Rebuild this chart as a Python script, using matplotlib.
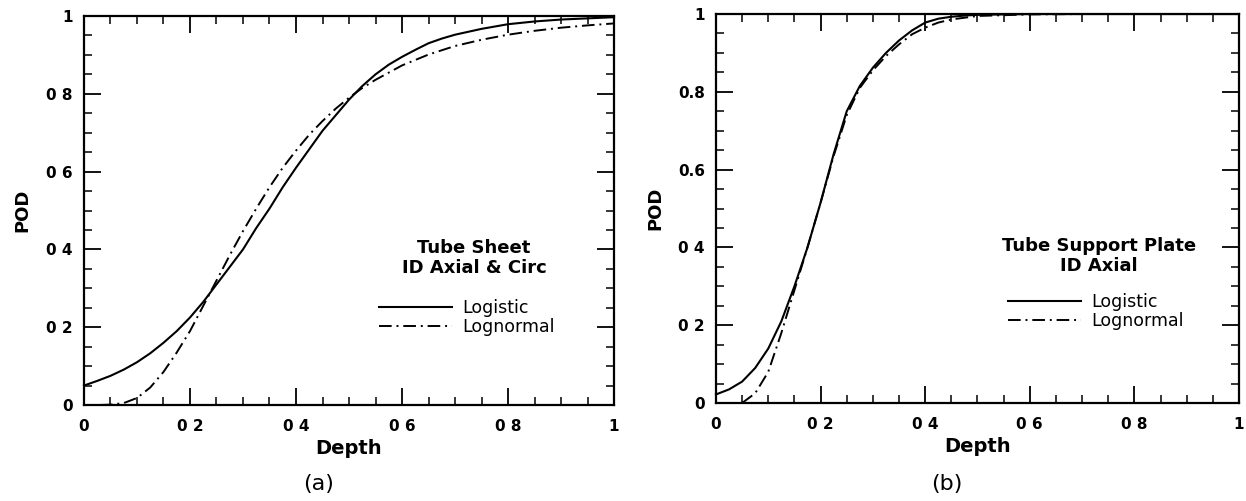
import matplotlib
matplotlib.use("Agg")
import matplotlib.pyplot as plt
from matplotlib.ticker import MultipleLocator

# values
depth_a_logistic = [0, .025, .05, .075, .1, .125, .15, .175, .2, .225, .25, .275, .3, .325, .35, .375, .4,
                    .45, .5, .525, .55, .575, .6, .625, .65, .675, .7, .75, .8, .85, .9, .95, 1]
pod_a_logistic = [.05, .062, .075, .091, .11, .133, .16, .19, .225, .265, .31, .355, .40, .455, .505, .56, .61,
                  .705, .785, .82, .85, .875, .895, .913, .93, .942, .952, .967, .979, .986, .991, .994, .997]

depth_a_lognormal = [.03, .05, .075, .1, .125, .15, .175, .2, .225, .25, .275, .3, .325, .35, .375, .4, .425,
                     .45, .475, .5, .525, .55, .6, .65, .7, .75, .8, .85, .9, .95, 1]
pod_a_lognormal = [0, .001, .005, .018, .045, .085, .135, .19, .255, .32, .385, .447, .505, .56, .61, .654, .695,
                   .73, .762, .79, .815, .836, .873, .901, .923, .939, .952, .962, .970, .976, .981]

depth_b_logistic = [0, .025, .05, .075, .1, .125, .15, .175, .2, .225, .25, .275, .3, .325, .35, .375, .4,
                    .425, .45, .475, .5, .6, .7, .8, .9, 1]
pod_b_logistic = [.022, .035, .055, .09, .14, .21, .30, .40, .515, .64, .75, .815, .862, .90, .932, .958, .978,
                  .988, .993, .996, .998, 1, 1, 1, 1, 1]

depth_b_lognormal = [.05, .075, .1, .125, .15, .175, .2, .225, .25, .275, .3, .325, .35, .375, .4, .425, .45,
                     .5, .6, .7, .8, .9, 1]
pod_b_lognormal = [0, .025, .08, .18, .29, .40, .515, .635, .74, .81, .855, .892, .922, .948, .965, .978, .986,
                   .995, .999, 1, 1, 1, 1]

x_ticks = [0, 0.2, 0.4, 0.6, 0.8, 1.0]
x_ticklabels = ["0", "0 2", "0 4", "0 6", "0 8", "1"]
y_ticklabels_a = ["0", "0 2", "0 4", "0 6", "0 8", "1"]
y_ticklabels_b = ["0", "0 2", "0 4", "0.6", "0.8", "1"]

plt.rcParams.update({"font.family": "DejaVu Sans"})
fig = plt.figure(figsize=(12.46, 5.01), dpi=100)
ax_a = fig.add_axes([0.0674, 0.1916, 0.4254, 0.7764])
ax_b = fig.add_axes([0.5746, 0.1956, 0.4198, 0.7764])

dashdot = (0, (6.5, 2.5, 1, 2.5))

panels = [
    (ax_a, depth_a_logistic, pod_a_logistic, depth_a_lognormal, pod_a_lognormal,
     y_ticklabels_a, "Tube Sheet\nID Axial & Circ", (0.736, 0.378), (0.723, 0.225)),
    (ax_b, depth_b_logistic, pod_b_logistic, depth_b_lognormal, pod_b_lognormal,
     y_ticklabels_b, "Tube Support Plate\nID Axial", (0.732, 0.378), (0.727, 0.236)),
]

for ax, dl, pl, dn, pn, ylabels, title, tpos, lpos in panels:
    ax.plot(dl, pl, color="black", lw=1.5, label="Logistic", clip_on=False)
    ax.plot(dn, pn, color="black", lw=1.4, linestyle=dashdot, label="Lognormal", clip_on=False)
    ax.set_xlim(0, 1)
    ax.set_ylim(0, 1)
    ax.set_xticks(x_ticks)
    ax.set_xticklabels(x_ticklabels, fontsize=11, fontweight="bold")
    ax.set_yticks(x_ticks)
    ax.set_yticklabels(ylabels, fontsize=11, fontweight="bold")
    ax.xaxis.set_minor_locator(MultipleLocator(0.05))
    ax.yaxis.set_minor_locator(MultipleLocator(0.05))
    ax.tick_params(which="both", direction="in", top=True, right=True, color="black")
    ax.tick_params(which="major", length=12.5, width=1.3)
    ax.tick_params(which="minor", length=6, width=1.1)
    ax.tick_params(axis="x", which="major", pad=10)
    ax.tick_params(axis="y", which="major", pad=8)
    for sp in ax.spines.values():
        sp.set_linewidth(1.6)

    ax.set_xlabel("Depth", fontsize=14, fontweight="bold", va="center")
    ax.xaxis.set_label_coords(0.5, -0.113)
    ax.set_ylabel("POD", fontsize=13, fontweight="bold", va="center")
    ax.yaxis.set_label_coords(-0.116, 0.5)

    ax.text(tpos[0], tpos[1], title, transform=ax.transAxes, ha="center", va="center",
            fontsize=13, fontweight="bold", linespacing=1.1)
    ax.legend(loc="center", bbox_to_anchor=lpos, frameon=False, fontsize=12.5,
              handlelength=4.2, handletextpad=0.6, labelspacing=0.05, borderpad=0)

fig.text(319 / 1246, 1 - 484 / 501, "(a)", ha="center", va="center", fontsize=16)
fig.text(947 / 1246, 1 - 484 / 501, "(b)", ha="center", va="center", fontsize=16)

fig.savefig("out.png", dpi=100)
plt.close(fig)
